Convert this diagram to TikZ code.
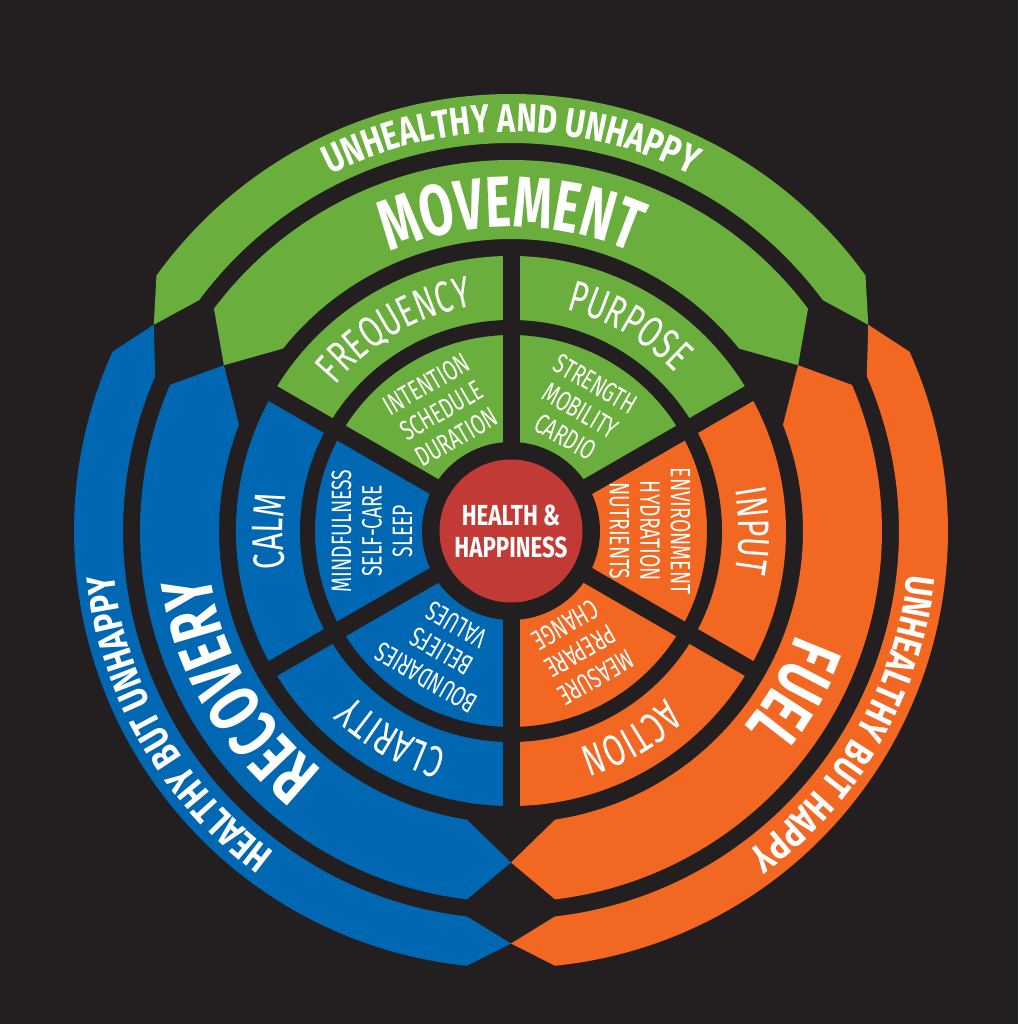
\documentclass[tikz,border=0pt]{standalone}
\usepackage{fontspec}
\setmainfont{Fira Sans}
\newfontfamily\slimfont{Fira Sans}[FakeStretch=0.69]
\newfontfamily\heavyfont{Fira Sans}[FakeStretch=0.68]
\newfontfamily\bandfont{Fira Sans}[FakeStretch=0.77]
\usetikzlibrary{decorations.text}
\definecolor{bgblack}{HTML}{231F20}
\definecolor{movegreen}{HTML}{6AAE3D}
\definecolor{recblue}{HTML}{0068B3}
\definecolor{fuelorange}{HTML}{F26722}
\definecolor{corered}{HTML}{C23A35}
\begin{document}
\begin{tikzpicture}[x = 1pt, y = 1pt,
        inlbl/.style = {text = white, align = center, inner sep = 0pt, font = \slimfont\fontsize{28}{30.5}\selectfont},
        corelbl/.style = {circle, fill = corered, minimum size = 143pt, inner sep = 0pt, text = white, align = center, font = \bandfont\bfseries\fontsize{29}{32}\selectfont},
        midlbl/.style = {decorate, decoration = {text along path, text align = center, text = {|\color{white}\slimfont\fontsize{44}{44}\selectfont|#1}}},
        biglbl/.style = {decorate, decoration = {text along path, text align = center, text = {|\color{white}\heavyfont\bfseries\fontsize{72}{72}\selectfont|#1}}},
        outlbl/.style = {decorate, decoration = {text along path, text align = center, text = {|\color{white}\bandfont\bfseries\fontsize{40}{40}\selectfont|#1}}}]
        \fill[bgblack] (-511, -493) rectangle (507, 531);

        % inner wheel
        \fill[movegreen] (0, 0) -- (30:275) arc[start angle = 30, end angle = 150, radius = 275] -- cycle;
        \fill[recblue] (0, 0) -- (150:275) arc[start angle = 150, end angle = 270, radius = 275] -- cycle;
        \fill[fuelorange] (0, 0) -- (270:275) arc[start angle = 270, end angle = 390, radius = 275] -- cycle;
        \draw[bgblack, line width = 15pt] (0, 0) circle[radius = 203.5];
        \draw[bgblack, line width = 17pt] (30:284) -- (210:284);
        \draw[bgblack, line width = 17pt] (90:284) -- (270:284);
        \draw[bgblack, line width = 17pt] (150:284) -- (330:284);
        \fill[bgblack] (0, 0) circle[radius = 89];
        \node[corelbl] (core) at (0, 0) {HEALTH \&\\HAPPINESS};

        % second bands
        \fill[movegreen] ({30+asin(44/371)}:371) arc[start angle = {30+asin(44/371)}, end angle = {150-asin(44/371)}, radius = 371] -- (150:331.5) -- ({150-asin(44/292)}:292) arc[start angle = {150-asin(44/292)}, end angle = {30+asin(44/292)}, radius = 292] -- (30:331.5) -- cycle;
        \fill[recblue] ({150+asin(44/371)}:371) arc[start angle = {150+asin(44/371)}, end angle = {270-asin(44/371)}, radius = 371] -- (270:331.5) -- ({270-asin(44/292)}:292) arc[start angle = {270-asin(44/292)}, end angle = {150+asin(44/292)}, radius = 292] -- (150:331.5) -- cycle;
        \fill[fuelorange] ({270+asin(44/371)}:371) arc[start angle = {270+asin(44/371)}, end angle = {390-asin(44/371)}, radius = 371] -- (390:331.5) -- ({390-asin(44/292)}:292) arc[start angle = {390-asin(44/292)}, end angle = {270+asin(44/292)}, radius = 292] -- (270:331.5) -- cycle;

        % outer bands
        \fill[movegreen] ({30+asin(44/437)}:437) arc[start angle = {30+asin(44/437)}, end angle = {150-asin(44/437)}, radius = 437] -- (150:412.5) -- ({150-asin(44/388)}:388) arc[start angle = {150-asin(44/388)}, end angle = {30+asin(44/388)}, radius = 388] -- (30:412.5) -- cycle;
        \fill[recblue] ({150+asin(44/437)}:437) arc[start angle = {150+asin(44/437)}, end angle = {270-asin(44/437)}, radius = 437] -- (270:412.5) -- ({270-asin(44/388)}:388) arc[start angle = {270-asin(44/388)}, end angle = {150+asin(44/388)}, radius = 388] -- (150:412.5) -- cycle;
        \fill[fuelorange] ({270+asin(44/437)}:437) arc[start angle = {270+asin(44/437)}, end angle = {390-asin(44/437)}, radius = 437] -- (390:412.5) -- ({390-asin(44/388)}:388) arc[start angle = {390-asin(44/388)}, end angle = {270+asin(44/388)}, radius = 388] -- (270:412.5) -- cycle;

        % inner labels
        \node[inlbl, rotate = 30] (intention) at (120:139) {INTENTION\\SCHEDULE\\DURATION};
        \node[inlbl, rotate = -30] (strength) at (60:139) {STRENGTH\\MOBILITY\\CARDIO};
        \node[inlbl, rotate = -90] (environment) at (0:139) {ENVIRONMENT\\HYDRATION\\NUTRIENTS};
        \node[inlbl, rotate = 90] (mindfulness) at (180:139) {MINDFULNESS\\SELF-CARE\\SLEEP};
        \node[inlbl, rotate = 150] (boundaries) at (240:139) {BOUNDARIES\\BELIEFS\\VALUES};
        \node[inlbl, rotate = 210] (measure) at (300:139) {MEASURE\\PREPARE\\CHANGE};

        % ring labels
        \path[midlbl = {FREQUENCY}] (150:228) arc[start angle = 150, end angle = 90, radius = 228];
        \path[midlbl = {PURPOSE}] (90:228) arc[start angle = 90, end angle = 30, radius = 228];
        \path[midlbl = {INPUT}] (30:228) arc[start angle = 30, end angle = -30, radius = 228];
        \path[midlbl = {CALM}] (210:228) arc[start angle = 210, end angle = 150, radius = 228];
        \path[midlbl = {CLARITY}] (270:228) arc[start angle = 270, end angle = 210, radius = 228];
        \path[midlbl = {ACTION}] (330:228) arc[start angle = 330, end angle = 270, radius = 228];

        \path[biglbl = {MOVEMENT}] (150:304) arc[start angle = 150, end angle = 30, radius = 304];
        \path[biglbl = {RECOVERY}] (270:304) arc[start angle = 270, end angle = 150, radius = 304];
        \path[biglbl = {FUEL}] (390:304) arc[start angle = 390, end angle = 270, radius = 304];

        \path[outlbl = {UNHEALTHY AND UNHAPPY}] (150:399) arc[start angle = 150, end angle = 30, radius = 399];
        \path[outlbl = {HEALTHY BUT UNHAPPY}] (270:399) arc[start angle = 270, end angle = 150, radius = 399];
        \path[outlbl = {UNHEALTHY BUT HAPPY}] (390:399) arc[start angle = 390, end angle = 270, radius = 399];
    \end{tikzpicture}
\end{document}
